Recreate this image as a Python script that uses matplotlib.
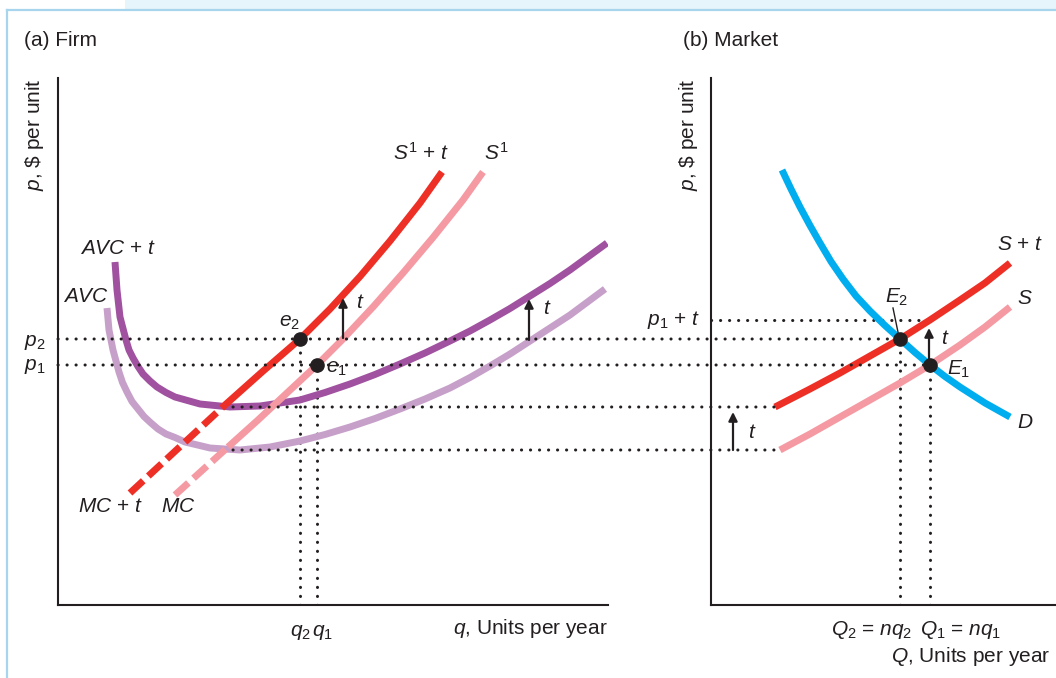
import matplotlib
matplotlib.use("Agg")
from matplotlib import pyplot as plt
from matplotlib.patches import ConnectionPatch, Rectangle
from matplotlib.lines import Line2D

plt.rcParams['font.family'] = ['Liberation Sans', 'DejaVu Sans']
plt.rcParams['mathtext.fontset'] = 'custom'
plt.rcParams['mathtext.rm'] = 'Liberation Sans'
plt.rcParams['mathtext.it'] = 'Liberation Sans:italic'
plt.rcParams['mathtext.bf'] = 'Liberation Sans:bold'

# ---- panel (a): firm ----
avc_q = [0.98, 1.02, 1.10, 1.22, 1.29, 1.38, 1.48, 1.60, 1.72, 1.86, 2.00, 2.16,
         2.34, 2.54, 3.04, 3.64, 4.24, 4.84, 5.34, 5.84, 6.34, 6.84, 7.34, 7.84,
         8.24, 8.64, 9.04, 9.44, 9.84, 10.24, 10.94]
avc_p = [5.94, 5.50, 5.10, 4.66, 4.45, 4.26, 4.07, 3.92, 3.77, 3.64, 3.52, 3.42,
         3.35, 3.26, 3.14, 3.10, 3.16, 3.28, 3.41, 3.56, 3.73, 3.92, 4.12, 4.34,
         4.55, 4.78, 5.02, 5.28, 5.54, 5.80, 6.32]
avct_q = [1.14, 1.18, 1.24, 1.36, 1.42, 1.50, 1.60, 1.70, 1.84, 1.98, 2.16, 2.34,
          2.84, 3.44, 4.04, 4.84, 5.34, 5.84, 6.34, 6.84, 7.34, 7.84, 8.24, 8.64,
          9.04, 9.44, 9.84, 10.24, 10.98]
avct_p = [6.86, 6.30, 5.76, 5.30, 5.10, 4.94, 4.77, 4.62, 4.48, 4.36, 4.25, 4.16,
          4.02, 3.96, 3.98, 4.10, 4.25, 4.42, 4.61, 4.82, 5.04, 5.28, 5.48, 5.70,
          5.93, 6.18, 6.43, 6.70, 7.24]
mc_low_q = [2.34, 3.40]
mc_low_p = [2.20, 3.16]
mc_q = [3.40, 4.00, 4.60, 5.18, 5.70, 6.30, 6.90, 7.50, 8.10, 8.50]
mc_p = [3.16, 3.70, 4.26, 4.80, 5.32, 5.96, 6.64, 7.35, 8.10, 8.66]
mct_low_q = [1.44, 3.34]
mct_low_p = [2.24, 4.00]
mct_q = [3.34, 4.08, 4.84, 5.44, 6.04, 6.64, 7.24, 7.68]
mct_p = [4.00, 4.66, 5.32, 5.92, 6.57, 7.28, 8.04, 8.66]

# ---- panel (b): market ----
d_Q = [1.42, 1.60, 1.78, 1.98, 2.18, 2.40, 2.64, 2.90, 3.18, 3.48, 3.78, 4.08, 4.38,
       4.68, 4.98, 5.48, 5.98]
d_P = [8.70, 8.32, 7.96, 7.59, 7.24, 6.87, 6.52, 6.18, 5.88, 5.59, 5.32, 5.05, 4.80,
       4.57, 4.36, 4.04, 3.76]
st_Q = [1.28, 1.98, 2.58, 3.18, 3.78, 4.38, 4.98, 5.48, 5.98]
st_P = [3.96, 4.32, 4.64, 4.98, 5.32, 5.70, 6.10, 6.44, 6.84]
s_Q = [1.38, 1.98, 2.58, 3.18, 3.78, 4.38, 4.98, 5.48, 5.98]
s_P = [3.10, 3.42, 3.76, 4.10, 4.44, 4.80, 5.20, 5.56, 5.96]

# key values
p1, p2, t = 4.80, 5.32, 0.90
q1, q2 = 5.18, 4.84
Q1, Q2 = 4.38, 3.78
shut, shut_t = 3.10, 3.96

RED = '#ed2f26'
PINK = '#f59aa3'
PURPLE = '#a0519f'
LILAC = '#c7a0ca'
BLUE = '#00aeef'
INK = '#231f20'
FS = 15

W, H = 1056, 678
fig = plt.figure(figsize=(W / 100, H / 100), dpi=100)
fig.patch.set_facecolor('white')

# frame decoration
fig.add_artist(Rectangle((125 / W, 1 - 10 / H), 1, 10 / H, transform=fig.transFigure,
                         facecolor='#e6f4fb', edgecolor='none', zorder=0))
fig.add_artist(Line2D([7 / W, 1], [1 - 10 / H, 1 - 10 / H], transform=fig.transFigure,
                      color='#a8d5ee', lw=1.6))
fig.add_artist(Line2D([7 / W, 7 / W], [0, 1 - 10 / H], transform=fig.transFigure,
                      color='#a8d5ee', lw=1.6))

ax_a = fig.add_axes([58 / W, (H - 605) / H, 550 / W, 527 / H])
ax_b = fig.add_axes([711 / W, (H - 605) / H, 345 / W, 527 / H])
for ax, xmax in ((ax_a, 11.0), (ax_b, 6.9)):
    ax.set_xlim(0, xmax)
    ax.set_ylim(0, 10.54)
    ax.set_xticks([])
    ax.set_yticks([])
    ax.patch.set_alpha(0)
    for s in ('top', 'right'):
        ax.spines[s].set_visible(False)
    for s in ('left', 'bottom'):
        ax.spines[s].set_linewidth(1.5)
        ax.spines[s].set_color(INK)

DOTS = (0, (0.05, 2.9))
dot = dict(color=INK, lw=2.2, linestyle=DOTS, dash_capstyle='round', zorder=1)


def link(xa, ya, xb, yb):
    con = ConnectionPatch(xyA=(xa, ya), coordsA='data', axesA=ax_a,
                          xyB=(xb, yb), coordsB='data', axesB=ax_b,
                          color=INK, lw=2.2, linestyle=DOTS, capstyle='round', zorder=1)
    fig.add_artist(con)


# dotted guides
link(0, p2, Q2, p2)
link(0, p1, Q1, p1)
link(3.5, shut_t, st_Q[0], shut_t)
link(3.5, shut, s_Q[0], shut)
ax_a.plot([q2, q2], [0, p2], **dot)
ax_a.plot([q1, q1], [0, p1], **dot)
ax_b.plot([0, Q1], [p1 + t, p1 + t], **dot)
ax_b.plot([Q2, Q2], [0, p2], **dot)
ax_b.plot([Q1, Q1], [0, p1], **dot)

curve = dict(lw=5, solid_capstyle='butt', dash_capstyle='butt', solid_joinstyle='round')
ax_a.plot(avc_q, avc_p, color=LILAC, zorder=3, **curve)
ax_a.plot(avct_q, avct_p, color=PURPLE, zorder=3, **curve)
ax_a.plot(mc_low_q, mc_low_p, color=PINK, zorder=4, dashes=(2.6, 1.0), **curve)
ax_a.plot(mc_q, mc_p, color=PINK, zorder=4, **curve)
ax_a.plot(mct_low_q, mct_low_p, color=RED, zorder=5, dashes=(2.6, 1.0), **curve)
ax_a.plot(mct_q, mct_p, color=RED, zorder=5, **curve)

ax_b.plot(d_Q, d_P, color=BLUE, zorder=3, **curve)
ax_b.plot(s_Q, s_P, color=PINK, zorder=4, **curve)
ax_b.plot(st_Q, st_P, color=RED, zorder=5, **curve)

ax_a.plot([q2, q1], [p2, p1], 'o', color=INK, ms=9.5, zorder=6, ls='none')
ax_b.plot([Q2, Q1], [p2, p1], 'o', color=INK, ms=9.5, zorder=6, ls='none')

arrow = dict(arrowstyle='-|>', color=INK, lw=1.6, mutation_scale=13, shrinkA=0, shrinkB=0)
ax_a.annotate('', xy=(5.70, 6.14), xytext=(5.70, 5.34), arrowprops=arrow, zorder=7)
ax_a.annotate('', xy=(9.42, 6.12), xytext=(9.42, 5.30), arrowprops=arrow, zorder=7)
ax_b.annotate('', xy=(0.44, 3.86), xytext=(0.44, shut), arrowprops=arrow, zorder=7)
ax_b.annotate('', xy=(4.36, 5.54), xytext=(4.36, 4.84), arrowprops=arrow, zorder=7)
ax_b.plot([3.64, 3.76], [5.94, 5.36], color=INK, lw=1.0, zorder=7)

txt = dict(fontsize=FS, color=INK, va='center', clip_on=False)
# panel (a) labels
ax_a.text(0.44, 7.14, '$AVC$ + $t$', ha='left', **txt)
ax_a.text(0.10, 6.16, '$AVC$', ha='left', **txt)
ax_a.text(0.40, 1.96, '$MC$ + $t$', ha='left', **txt)
ax_a.text(2.06, 1.96, '$MC$', ha='left', **txt)
ax_a.text(6.70, 9.04, '$S^1$ + $t$', ha='left', **txt)
ax_a.text(8.52, 9.04, '$S^1$', ha='left', **txt)
ax_a.text(4.62, 5.66, '$e_2$', ha='center', **txt)
ax_a.text(5.36, 4.72, '$e_1$', ha='left', **txt)
ax_a.text(6.04, 6.06, '$t$', ha='center', **txt)
ax_a.text(9.78, 5.94, '$t$', ha='center', **txt)
ax_a.text(-0.46, 5.26, '$p_2$', ha='center', **txt)
ax_a.text(-0.46, 4.76, '$p_1$', ha='center', **txt)
ax_a.text(4.84, -0.54, '$q_2$', ha='center', **txt)
ax_a.text(5.28, -0.54, '$q_1$', ha='center', **txt)
ax_a.text(11.0, -0.46, '$q$, Units per year', ha='right', **txt)

# panel (b) labels
ax_b.text(-0.22, 5.70, '$p_1$ + $t$', ha='right', **txt)
ax_b.text(3.72, 6.16, '$E_2$', ha='center', **txt)
ax_b.text(4.72, 4.72, '$E_1$', ha='left', **txt)
ax_b.text(4.68, 5.34, '$t$', ha='center', **txt)
ax_b.text(0.82, 3.44, '$t$', ha='center', **txt)
ax_b.text(5.72, 7.20, '$S$ + $t$', ha='left', **txt)
ax_b.text(6.12, 6.14, '$S$', ha='left', **txt)
ax_b.text(6.12, 3.66, '$D$', ha='left', **txt)
ax_b.text(4.02, -0.50, '$Q_2$ = $nq_2$', ha='right', **txt)
ax_b.text(4.18, -0.50, '$Q_1$ = $nq_1$', ha='left', **txt)
ax_b.text(6.78, -1.04, '$Q$, Units per year', ha='right', **txt)

# titles and vertical axis labels
fig.text(24 / W, 1 - 40 / H, '(a) Firm', fontsize=FS, color=INK, ha='left', va='center')
fig.text(683 / W, 1 - 40 / H, '(b) Market', fontsize=FS, color=INK, ha='left', va='center')
fig.text(35 / W, 1 - 78 / H, r'$p$, \$ per unit', fontsize=FS, color=INK,
         rotation=90, ha='center', va='top')
fig.text(688 / W, 1 - 78 / H, r'$p$, \$ per unit', fontsize=FS, color=INK,
         rotation=90, ha='center', va='top')

fig.savefig('out.png', dpi=100)
